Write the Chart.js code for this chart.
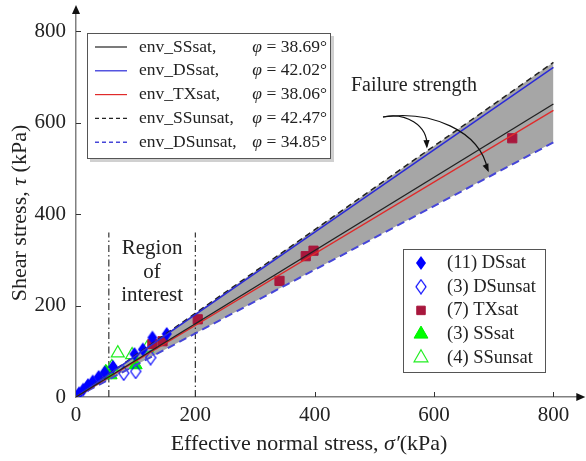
<!DOCTYPE html>
<html>
<head>
<meta charset="UTF-8">
<script src="https://cdn.jsdelivr.net/npm/chart.js"></script>
<style>
    html, body { margin: 0; padding: 0; background: #fff; }
    #wrap { width: 586px; height: 461px; }
</style>
</head>
<body>
<div id="wrap"><canvas id="grafico" width="586" height="461"></canvas></div>
<script>

    // envelopes: shear stress read at sigma' = 0 and 800 kPa
    const envSigma = [0, 800];
    const tauSSsat = [0, 641];
    const tauDSsat = [0, 721];
    const tauTXsat = [0, 627];
    const tauSSunsat = [0, 732];
    const tauDSunsat = [0, 557];

    const envNomes = ['env_SSsat,', 'env_DSsat,', 'env_TXsat,', 'env_SSunsat,', 'env_DSunsat,'];
    const envPhi = ['38.69°', '42.02°', '38.06°', '42.47°', '34.85°'];

    // test points [sigma', tau]
    const dsSat = [[5, 8], [12, 16], [20, 26], [28, 34], [38, 44], [48, 54], [62, 66], [98, 94], [112, 104], [128, 130], [152, 138]];
    const dsUnsat = [[80, 52], [100, 56], [125, 86]];
    const txSat = [[128, 116], [145, 122], [204, 170], [341, 254], [385, 308], [398, 320], [731, 566]];
    const ssSat = [[50, 55], [58, 48], [100, 70]];
    const ssUnsat = [[60, 66], [70, 96], [94, 92], [119, 107]];

    const pontosNomes = ['(11) DSsat', '(3) DSunsat', '(7) TXsat', '(3) SSsat', '(4) SSunsat'];

    // region of interest
    const regiaoX = [55, 200];
    const regiaoTopo = 360;

    const xTicks = [0, 200, 400, 600, 800];
    const yTicks = [0, 200, 400, 600, 800];

    const fonte = "'Liberation Serif', 'Times New Roman', serif";

    function pares(xs, ys) {
        return xs.map((x, i) => ({ x: x, y: ys[i] }));
    }
    function pontos(lista) {
        return lista.map(p => ({ x: p[0], y: p[1] }));
    }

    function losango(cheio) {
        const c = document.createElement('canvas');
        c.width = 12; c.height = 16;
        const g = c.getContext('2d');
        g.beginPath();
        g.moveTo(6, 1); g.lineTo(11, 8); g.lineTo(6, 15); g.lineTo(1, 8); g.closePath();
        if (cheio) {
            g.fillStyle = '#0000ff'; g.fill();
        } else {
            g.strokeStyle = '#0000ff'; g.lineWidth = 1.2; g.stroke();
        }
        return c;
    }
    const losCheio = losango(true);
    const losVazio = losango(false);

    function linha(dados, cor, larg, dash) {
        return {
            data: dados, showLine: true, pointRadius: 0, borderColor: cor,
            borderWidth: larg, borderDash: dash || [], fill: false, order: 0
        };
    }

    const datasets = [
        linha(pares(envSigma, tauSSsat), '#222222', 1.3),
        linha(pares(envSigma, tauDSsat), '#2a2ad8', 1.5),
        linha(pares(envSigma, tauTXsat), '#e02a2a', 1.3),
        Object.assign(linha(pares(envSigma, tauSSunsat), '#222222', 1.5, [6, 4]), { fill: 4, backgroundColor: '#a6a6a6' }),
        linha(pares(envSigma, tauDSunsat), '#4646d8', 2, [8, 5]),
        { data: pontos(dsSat), pointStyle: losCheio, pointRadius: 7, order: 1 },
        { data: pontos(dsUnsat), pointStyle: losVazio, pointRadius: 7, order: 1 },
        { data: pontos(txSat), pointStyle: 'rect', pointRadius: 6.5, backgroundColor: '#a8173d', borderColor: '#a8173d', order: 1 },
        { data: pontos(ssSat), pointStyle: 'triangle', pointRadius: 7.5, backgroundColor: '#00ff00', borderColor: '#00ee00', borderWidth: 1, order: 1 },
        { data: pontos(ssUnsat), pointStyle: 'triangle', pointRadius: 7.5, backgroundColor: 'rgba(0,0,0,0)', borderColor: '#22ee22', borderWidth: 1.2, order: 1 },
        linha(pares([regiaoX[0], regiaoX[0]], [0, regiaoTopo]), '#333333', 1.2, [7, 3, 1.5, 3]),
        linha(pares([regiaoX[1], regiaoX[1]], [0, regiaoTopo]), '#333333', 1.2, [7, 3, 1.5, 3])
    ];
    datasets[10].order = 2;
    datasets[11].order = 2;

    // text with italic parts
    function textoMisto(ctx, partes, x, y, tam, alinh) {
        let total = 0;
        partes.forEach(p => {
            ctx.font = (p[1] ? 'italic ' : '') + tam + 'px ' + fonte;
            total += ctx.measureText(p[0]).width;
        });
        let cx = alinh === 'center' ? x - total / 2 : (alinh === 'right' ? x - total : x);
        ctx.textAlign = 'left';
        partes.forEach(p => {
            ctx.font = (p[1] ? 'italic ' : '') + tam + 'px ' + fonte;
            ctx.fillText(p[0], cx, y);
            cx += ctx.measureText(p[0]).width;
        });
    }

    function pontaSeta(ctx, x, y, ang, tam) {
        ctx.beginPath();
        ctx.moveTo(x, y);
        ctx.lineTo(x - tam * Math.cos(ang - 0.35), y - tam * Math.sin(ang - 0.35));
        ctx.lineTo(x - tam * Math.cos(ang + 0.35), y - tam * Math.sin(ang + 0.35));
        ctx.closePath();
        ctx.fill();
    }

    const desenhos = {
        id: 'desenhos',
        afterDraw(chart) {
            const ctx = chart.ctx, xs = chart.scales.x, ys = chart.scales.y, a = chart.chartArea;
            ctx.save();

            // axis arrows
            ctx.fillStyle = '#111';
            ctx.beginPath();
            ctx.moveTo(a.right + 8, a.bottom); ctx.lineTo(a.right - 1, a.bottom - 4); ctx.lineTo(a.right - 1, a.bottom + 4);
            ctx.fill();
            ctx.beginPath();
            ctx.moveTo(a.left, a.top - 8); ctx.lineTo(a.left - 4, a.top + 1); ctx.lineTo(a.left + 4, a.top + 1);
            ctx.fill();

            // inner tick marks
            ctx.strokeStyle = '#333'; ctx.lineWidth = 1;
            xTicks.slice(1).forEach(v => {
                const px = Math.round(xs.getPixelForValue(v)) + 0.5;
                ctx.beginPath(); ctx.moveTo(px, a.bottom); ctx.lineTo(px, a.bottom - 5); ctx.stroke();
            });
            yTicks.slice(1).forEach(v => {
                const py = Math.round(ys.getPixelForValue(v)) + 0.5;
                ctx.beginPath(); ctx.moveTo(a.left, py); ctx.lineTo(a.left + 5, py); ctx.stroke();
            });

            ctx.fillStyle = '#222';
            ctx.textBaseline = 'middle';

            // axis titles
            textoMisto(ctx, [['Effective normal stress, ', false], ['σ′', true], ['(kPa)', false]], 309, 444, 22, 'center');
            ctx.save();
            ctx.translate(20, 213);
            ctx.rotate(-Math.PI / 2);
            textoMisto(ctx, [['Shear stress, ', false], ['τ', true], [' (kPa)', false]], 0, 0, 22, 'center');
            ctx.restore();

            // region of interest
            ctx.font = '21px ' + fonte;
            ctx.textAlign = 'center';
            const cx = (xs.getPixelForValue(regiaoX[0]) + xs.getPixelForValue(regiaoX[1])) / 2;
            ctx.fillText('Region', cx, 248);
            ctx.fillText('of', cx, 272);
            ctx.fillText('interest', cx, 295);

            // failure strength + arrows
            ctx.textAlign = 'left';
            ctx.font = '20px ' + fonte;
            ctx.fillText('Failure strength', 351, 86);
            ctx.strokeStyle = '#111'; ctx.lineWidth = 1.2; ctx.fillStyle = '#111';
            const x0 = 383, y0 = 117;
            const t1x = xs.getPixelForValue(588), t1y = ys.getPixelForValue(548);
            const t2x = xs.getPixelForValue(690), t2y = ys.getPixelForValue(496);
            ctx.beginPath(); ctx.moveTo(x0, y0); ctx.bezierCurveTo(405, 112, 428, 125, t1x, t1y); ctx.stroke();
            pontaSeta(ctx, t1x, t1y + 2, Math.PI / 2 - 0.05, 9);
            ctx.beginPath(); ctx.moveTo(x0, y0); ctx.bezierCurveTo(430, 110, 480, 130, t2x, t2y); ctx.stroke();
            pontaSeta(ctx, t2x + 1, t2y + 2, Math.PI / 2 - 0.4, 9);

            // legend of envelopes
            ctx.fillStyle = '#d0d0d0';
            ctx.fillRect(90, 36, 244, 126);
            ctx.fillStyle = '#fff';
            ctx.fillRect(87, 33, 243, 125);
            ctx.strokeStyle = '#555'; ctx.lineWidth = 1; ctx.setLineDash([]);
            ctx.strokeRect(87.5, 33.5, 243, 125);
            envNomes.forEach((nome, i) => {
                const ds = chart.data.datasets[i];
                const y = 47 + i * 23.8;
                ctx.strokeStyle = ds.borderColor;
                ctx.lineWidth = ds.borderWidth > 1.5 ? 1.5 : 1.2;
                ctx.setLineDash(ds.borderDash.length ? [4, 3] : []);
                ctx.beginPath(); ctx.moveTo(95, y); ctx.lineTo(127, y); ctx.stroke();
                ctx.setLineDash([]);
                ctx.fillStyle = '#222';
                ctx.font = '17.5px ' + fonte;
                ctx.textAlign = 'left';
                ctx.fillText(nome, 139, y);
                textoMisto(ctx, [['φ', true], [' = ' + envPhi[i], false]], 327, y, 17.5, 'right');
            });

            // legend of points
            ctx.fillStyle = '#fff';
            ctx.fillRect(403, 249, 142, 123);
            ctx.strokeStyle = '#555'; ctx.lineWidth = 1;
            ctx.strokeRect(403.5, 249.5, 142, 123);
            pontosNomes.forEach((nome, i) => {
                const ds = chart.data.datasets[5 + i];
                const y = 263 + i * 23.7;
                ctx.save();
                ctx.fillStyle = ds.backgroundColor || '#000';
                ctx.strokeStyle = ds.borderColor || '#000';
                ctx.lineWidth = ds.borderWidth || 1;
                Chart.helpers.drawPoint(ctx, {
                    pointStyle: ds.pointStyle, radius: ds.pointStyle === 'rect' ? 6 : 8,
                    rotation: 0, borderWidth: ds.borderWidth || 1
                }, 421, y);
                ctx.restore();
                ctx.fillStyle = '#222';
                ctx.font = '18.5px ' + fonte;
                ctx.textAlign = 'left';
                ctx.textBaseline = 'middle';
                ctx.fillText(nome, 447, y);
            });

            ctx.restore();
        }
    };

    new Chart(document.getElementById('grafico'), {
        type: 'scatter',
        data: { datasets: datasets },
        options: {
            responsive: false,
            animation: false,
            devicePixelRatio: 1,
            layout: { padding: { left: 0, right: 8, top: 13, bottom: 0 } },
            plugins: {
                legend: { display: false },
                tooltip: { enabled: false },
                filler: { drawTime: 'beforeDatasetsDraw' }
            },
            scales: {
                x: {
                    type: 'linear', min: 0, max: 840,
                    afterFit: s => { s.height = 64; s.paddingLeft = 0; s.paddingRight = 0; },
                    afterBuildTicks: s => { s.ticks = xTicks.map(v => ({ value: v })); },
                    ticks: { font: { family: fonte, size: 21 }, color: '#222', padding: 6, maxRotation: 0 },
                    grid: { display: false, drawTicks: false },
                    border: { display: true, color: '#808080', width: 1.5 }
                },
                y: {
                    type: 'linear', min: 0, max: 840,
                    afterFit: s => { s.width = 76; s.paddingTop = 0; s.paddingBottom = 0; },
                    afterBuildTicks: s => { s.ticks = yTicks.map(v => ({ value: v })); },
                    ticks: { font: { family: fonte, size: 21 }, color: '#222', padding: 10 },
                    grid: { display: false, drawTicks: false },
                    border: { display: true, color: '#808080', width: 1.5 }
                }
            }
        },
        plugins: [desenhos]
    });

</script>
</body>
</html>
